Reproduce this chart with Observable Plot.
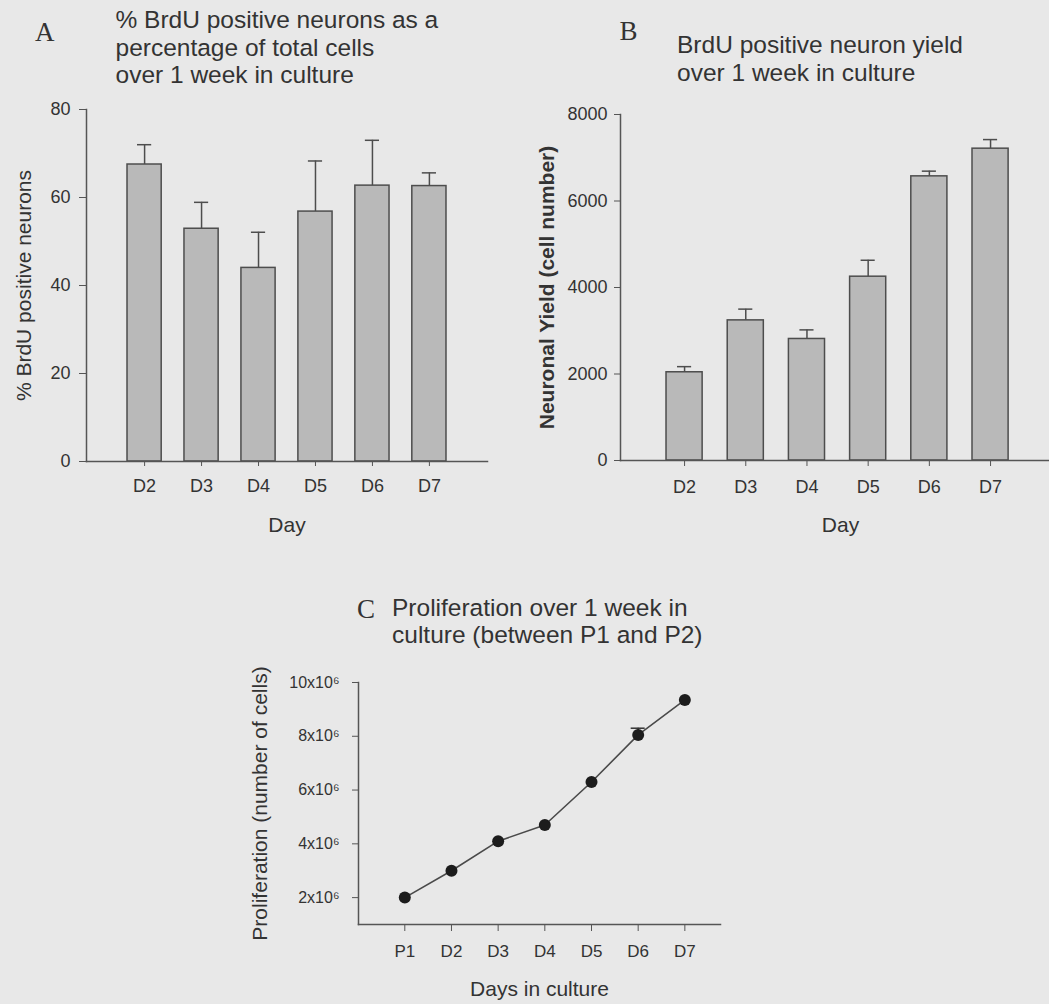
<!DOCTYPE html>
<html>
<head>
<meta charset="utf-8">
<script src="https://cdn.jsdelivr.net/npm/d3@7"></script>
<script src="https://cdn.jsdelivr.net/npm/@observablehq/plot@0.6"></script>
<style>
html, body { margin: 0; padding: 0; background: #e8e8e8; overflow: hidden; }
#page { position: relative; width: 1049px; height: 1004px; overflow: hidden; background: #e8e8e8;
        font-family: "Liberation Sans", Arial, sans-serif; color: #333; }
.panel { position: absolute; }
.panel svg { max-width: none !important; }
.title { position: absolute; font-size: 24.5px; line-height: 27.5px; white-space: nowrap; color: #333; }
.letter { position: absolute; font-family: "Liberation Serif", "Times New Roman", serif; font-size: 27px; line-height: 1; color: #333; }
</style>
</head>
<body>
<div id="page">
  <div class="letter" style="left:35px; top:18.5px;">A</div>
  <div class="title" style="left:115.5px; top:6px;">% BrdU positive neurons as a<br>percentage of total cells<br>over 1 week in culture</div>
  <div class="letter" style="left:619.5px; top:18px;">B</div>
  <div class="title" style="left:677px; top:31px;">BrdU positive neuron yield<br>over 1 week in culture</div>
  <div class="letter" style="left:357px; top:596px;">C</div>
  <div class="title" style="left:392px; top:593.5px;">Proliferation over 1 week in<br>culture (between P1 and P2)</div>
  <div class="panel" id="panelA" style="left:0px; top:100px; width:500px; height:440px;"></div>
  <div class="panel" id="panelB" style="left:520px; top:100px; width:540px; height:440px;"></div>
  <div class="panel" id="panelC" style="left:220px; top:660px; width:520px; height:344px;"></div>
</div>
<script>
// ---- Data ----
const days = ["D2", "D3", "D4", "D5", "D6", "D7"];
const brduPct = [67.5, 52.9, 44.0, 56.8, 62.7, 62.6];
const brduPctErr = [4.5, 6.0, 8.1, 11.5, 10.3, 3.0];
const yieldVals = [2040, 3240, 2810, 4250, 6570, 7210];
const yieldErr = [130, 260, 210, 380, 120, 210];
const prolifDays = ["P1", "D2", "D3", "D4", "D5", "D6", "D7"];
const prolifVals = [2.0, 3.0, 4.1, 4.7, 6.3, 8.05, 9.35]; // ×10^6 cells
const prolifErr = [0, 0, 0, 0, 0, 0.25, 0];
const ticksA = [0, 20, 40, 60, 80];
const ticksB = [0, 2000, 4000, 6000, 8000];
const ticksC = [2, 4, 6, 8, 10];

const textColor = "#333";
const lineColor = "#555";
const barFill = "#b9b9b9";
const barStroke = "#4d4d4d";

const baseStyle = {
  background: "transparent",
  fontFamily: "'Liberation Sans', Arial, sans-serif",
  color: textColor,
  overflow: "visible",
  maxWidth: "none"
};

// ---- Panel A ----
const dataA = days.map((d, i) => ({day: d, v: brduPct[i], e: brduPctErr[i]}));
const plotA = Plot.plot({
  width: 500, height: 440,
  marginLeft: 86, marginRight: 13, marginTop: 9, marginBottom: 79,
  style: baseStyle,
  x: {domain: days, paddingInner: 0.4, paddingOuter: 0.72, align: 0.5, round: false, label: null},
  y: {domain: [0, 80], label: null},
  marks: [
    Plot.ruleX(dataA, {x: "day", y1: "v", y2: d => d.v + d.e, stroke: barStroke, strokeWidth: 1.5}),
    Plot.tickY(dataA, {x: "day", y: d => d.v + d.e, stroke: barStroke, strokeWidth: 1.5, insetLeft: 10, insetRight: 10}),
    Plot.barY(dataA, {x: "day", y: "v", fill: barFill, stroke: barStroke, strokeWidth: 1.5}),
    Plot.frame({anchor: "left", stroke: lineColor, strokeWidth: 1.5}),
    Plot.frame({anchor: "bottom", stroke: lineColor, strokeWidth: 1.5}),
    Plot.axisY(ticksA, {tickSize: 7, tickPadding: 9, fontSize: 18, label: null, stroke: lineColor}),
    Plot.axisY([], {label: "% BrdU positive neurons", labelAnchor: "center", labelOffset: 70, labelArrow: "none", fontSize: 21, tickSize: 0}),
    Plot.axisX({tickSize: 5, tickPadding: 13, fontSize: 18, label: null, stroke: lineColor}),
    Plot.axisX([], {label: "Day", labelAnchor: "center", labelOffset: 70, labelArrow: "none", fontSize: 21, tickSize: 0})
  ]
});
document.getElementById("panelA").appendChild(plotA);

// ---- Panel B ----
const dataB = days.map((d, i) => ({day: d, v: yieldVals[i], e: yieldErr[i]}));
const plotB = Plot.plot({
  width: 540, height: 440,
  marginLeft: 100, marginRight: 0, marginTop: 14, marginBottom: 80,
  style: baseStyle,
  x: {domain: days, paddingInner: 0.41, paddingOuter: 0.8, align: 0.47, round: false, label: null},
  y: {domain: [0, 8000], label: null},
  marks: [
    Plot.ruleX(dataB, {x: "day", y1: "v", y2: d => d.v + d.e, stroke: barStroke, strokeWidth: 1.5}),
    Plot.tickY(dataB, {x: "day", y: d => d.v + d.e, stroke: barStroke, strokeWidth: 1.5, insetLeft: 11, insetRight: 11}),
    Plot.barY(dataB, {x: "day", y: "v", fill: barFill, stroke: barStroke, strokeWidth: 1.5}),
    Plot.frame({anchor: "left", stroke: lineColor, strokeWidth: 1.5}),
    Plot.frame({anchor: "bottom", stroke: lineColor, strokeWidth: 1.5}),
    Plot.axisY(ticksB, {tickSize: 6, tickPadding: 7, fontSize: 18, label: null, stroke: lineColor, tickFormat: d => String(d)}),
    Plot.axisY([], {label: "Neuronal Yield (cell number)", labelAnchor: "center", labelOffset: 81, labelArrow: "none", fontSize: 21, fontWeight: "bold", tickSize: 0}),
    Plot.axisX({tickSize: 6, tickPadding: 14, fontSize: 18, label: null, stroke: lineColor}),
    Plot.axisX([], {label: "Day", labelAnchor: "center", labelOffset: 71, labelArrow: "none", fontSize: 21, tickSize: 0})
  ]
});
document.getElementById("panelB").appendChild(plotB);

// ---- Panel C ----
const dataC = prolifDays.map((d, i) => ({day: d, v: prolifVals[i], e: prolifErr[i]}));
const errC = dataC.filter(d => d.e > 0);
const plotC = Plot.plot({
  width: 520, height: 344,
  marginLeft: 138, marginRight: 20, marginTop: 22, marginBottom: 80,
  style: baseStyle,
  x: {type: "point", domain: prolifDays, padding: 0.878, align: 0.565, round: false, label: null},
  y: {domain: [1, 10], label: null},
  marks: [
    Plot.frame({anchor: "left", stroke: lineColor, strokeWidth: 1.5}),
    Plot.frame({anchor: "bottom", stroke: lineColor, strokeWidth: 1.5}),
    Plot.ruleX(errC, {x: "day", y1: "v", y2: d => d.v + d.e, stroke: "#333", strokeWidth: 1.5}),
    Plot.ruleY(errC, {y: d => d.v + d.e, x1: "day", x2: "day", insetLeft: -7, insetRight: -7, stroke: "#333", strokeWidth: 1.5}),
    Plot.line(dataC, {x: "day", y: "v", stroke: "#4a4a4a", strokeWidth: 1.6}),
    Plot.dot(dataC, {x: "day", y: "v", r: 6, fill: "#1c1c1c", stroke: "none"}),
    Plot.axisY(ticksC, {tickSize: 6, tickPadding: 13, fontSize: 16, label: null, stroke: lineColor, tickFormat: d => `${d}x10⁶`}),
    Plot.axisY([], {label: "Proliferation (number of cells)", labelAnchor: "center", labelOffset: 106, labelArrow: "none", fontSize: 21, tickSize: 0}),
    Plot.axisX({tickSize: 7, tickPadding: 13, fontSize: 17, label: null, stroke: lineColor}),
    Plot.axisX([], {label: "Days in culture", labelAnchor: "center", labelOffset: 71, labelArrow: "none", fontSize: 21, tickSize: 0})
  ]
});
document.getElementById("panelC").appendChild(plotC);
</script>
</body>
</html>
